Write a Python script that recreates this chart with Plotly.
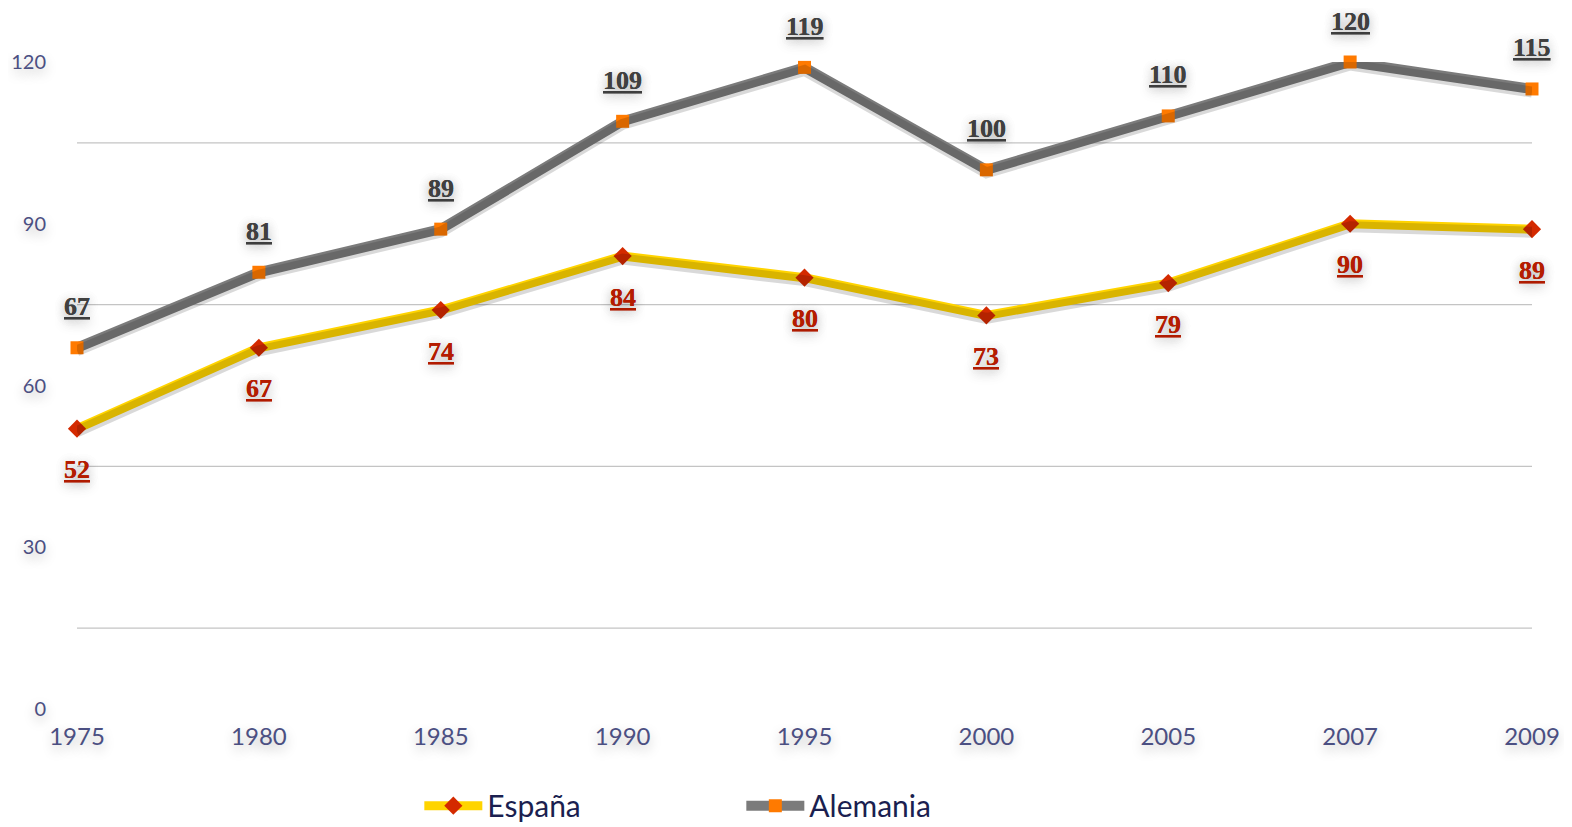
import plotly.graph_objects as go

years = ["1975", "1980", "1985", "1990", "1995", "2000", "2005", "2007", "2009"]
espana = [52, 67, 74, 84, 80, 73, 79, 90, 89]
alemania = [67, 81, 89, 109, 119, 100, 110, 120, 115]
y_ticks = [0, 30, 60, 90, 120]
grid_values = [15, 45, 75, 105]

GRAY = "#7b7b7b"
YELLOW = "#ffd400"
ORANGE = "#ff7a00"
RED = "#d42a00"
TICK_COLOR = "#4b4f82"
TICK_SHADOW = "0px 5px 12px rgba(0,0,0,0.28)"
LABEL_SHADOW = "0px 2px 12px rgba(0,0,0,0.2)"

Y_RANGE = [0, 120]
PX_PER_UNIT = 647.5 / 120  # plot height / range span

def shifted(rng, px):
    d = px / PX_PER_UNIT
    return [rng[0] - d, rng[1] - d]

fig = go.Figure()

# drop shadows of the lines (same data on a slightly shifted overlay axis)
for vals in (alemania, espana):
    fig.add_trace(go.Scatter(
        x=years, y=vals, mode="lines", yaxis="y2", showlegend=False, hoverinfo="skip",
        line=dict(color="rgba(0,0,0,0.15)", width=11),
    ))

fig.add_trace(go.Scatter(
    x=years, y=espana, name="España", mode="lines+markers",
    line=dict(color=YELLOW, width=9),
    marker=dict(symbol="diamond", size=14, color=RED),
    cliponaxis=False,
))
fig.add_trace(go.Scatter(
    x=years, y=alemania, name="Alemania", mode="lines+markers",
    line=dict(color=GRAY, width=10),
    marker=dict(symbol="square", size=13, color=ORANGE),
    cliponaxis=False,
))

# value labels (category index positions)
for i, v in enumerate(alemania):
    fig.add_annotation(x=i, y=v, text=f"<u>{v}</u>", showarrow=False, yshift=41,
                       font=dict(family="Liberation Serif", size=26, weight="bold",
                                 color="#404040", shadow=LABEL_SHADOW))
for i, v in enumerate(espana):
    fig.add_annotation(x=i, y=v, text=f"<u>{v}</u>", showarrow=False, yshift=-41,
                       font=dict(family="Liberation Serif", size=26, weight="bold",
                                 color="#b51c00", shadow=LABEL_SHADOW))

for g in grid_values:
    fig.add_shape(type="line", xref="paper", x0=0, x1=1, yref="y", y0=g, y1=g,
                  line=dict(color="#c4c4c4", width=1.2), layer="below")

fig.update_layout(
    width=1564, height=819,
    margin=dict(l=69, r=40, t=54, b=117.5, autoexpand=False),
    paper_bgcolor="white", plot_bgcolor="white",
    xaxis=dict(type="category", range=[0, 8], showgrid=False, zeroline=False, showline=False,
               ticks="", ticklabelstandoff=11, automargin=False,
               tickfont=dict(family="Lato", size=24, color=TICK_COLOR, shadow=TICK_SHADOW)),
    yaxis=dict(range=Y_RANGE, tickvals=y_ticks, showgrid=False, zeroline=False, showline=False,
               ticks="", ticklabelstandoff=30, automargin=False,
               tickfont=dict(family="Lato", size=20, color=TICK_COLOR, shadow=TICK_SHADOW)),
    yaxis2=dict(range=shifted(Y_RANGE, -3), overlaying="y", visible=False),
    legend=dict(orientation="h", xref="container", yref="container", x=0.263, y=0.026,
                xanchor="left", yanchor="middle", entrywidth=249,
                font=dict(family="Lato", size=30, color="#1b1f50"), itemwidth=58,
                traceorder="normal"),
    showlegend=True,
)

fig.write_html("out.html")
